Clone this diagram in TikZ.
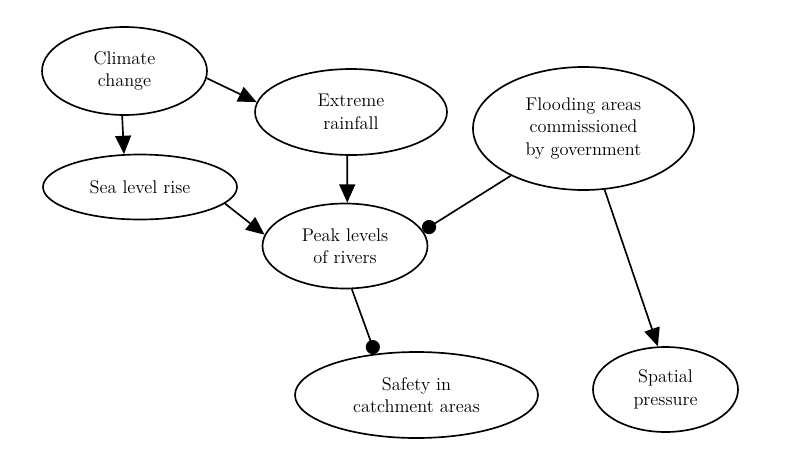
\documentclass[tikz,border=0pt]{standalone}
\usepackage{amsmath}
\usepackage{tikz}
\usetikzlibrary{shapes.geometric,arrows.meta}

\tikzset{
  bubble/.style = {draw, ellipse, line width=1pt, inner sep=0pt, align=center,
                   font=\fontsize{11}{13.5}\selectfont},
  cause/.style  = {line width=1pt, -{Triangle[length=11pt, width=9.5pt]}},
  curb/.style   = {line width=1pt, -{Circle[length=8.5pt]}}
}

\begin{document}
\begin{tikzpicture}[x=0.6pt, y=-0.6pt]

	\useasboundingbox (0,0) rectangle (800,470);

	\node[bubble, minimum width=99pt, minimum height=52.8pt] (climate) at (124.5,71) {Climate\\change};
	\node[bubble, minimum width=115.2pt, minimum height=51.6pt] (rain) at (351,112) {Extreme\\rainfall};
	\node[bubble, minimum width=116.4pt, minimum height=39pt] (sea) at (140,187) {Sea level rise};
	\node[bubble, minimum width=99pt, minimum height=51pt] (peak) at (345,246) {Peak levels\\of rivers};
	\node[bubble, minimum width=132.6pt, minimum height=73.8pt] (flood) at (583.5,128.5) {Flooding areas\\commissioned\\by government};
	\node[bubble, minimum width=145.8pt, minimum height=51.6pt] (safety) at (416.5,395) {Safety in\\catchment areas};
	\node[bubble, minimum width=87pt, minimum height=51pt] (spatial) at (665.5,389.5) {Spatial\\pressure};

	\draw[cause] (climate.267) -- (sea.116);
	\draw[cause] (climate.-5) -- (rain.174);
	\draw[cause] (sea.-11) -- (peak.172);
	\draw[cause] (rain.265) -- (peak.87);
	\draw[curb] (flood.213) -- (peak.11);
	\draw[curb] (peak.-81) -- (safety.135);
	\draw[cause] (flood.-71) -- (spatial.100);

\end{tikzpicture}
\end{document}
